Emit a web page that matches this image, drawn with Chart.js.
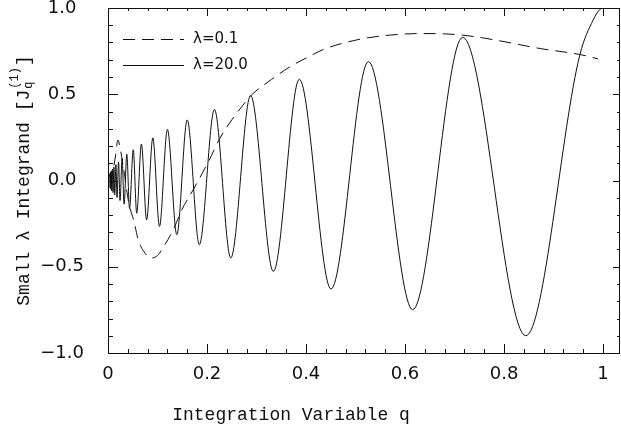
<!DOCTYPE html>
<html>
<head>
<meta charset="utf-8">
<script src="https://cdn.jsdelivr.net/npm/chart.js@4"></script>
<style>
  body { margin: 0; background: #fff; }
  canvas { display: block; }
</style>
</head>
<body>
<canvas id="integrand" width="621" height="431"></canvas>
<script>
// solid curve, lambda = 20.0 (extrema)
const qSolid = [0.001, 0.0038, 0.0043, 0.005, 0.0057, 0.0067, 0.0076, 0.009, 0.0102, 0.012,
  0.0136, 0.016, 0.0182, 0.0213, 0.0243, 0.0285, 0.0325, 0.038, 0.0435, 0.051,
  0.058, 0.0675, 0.078, 0.0905, 0.104, 0.120, 0.139, 0.160, 0.1845, 0.215,
  0.248, 0.288, 0.334, 0.3865, 0.4505, 0.526, 0.6155, 0.7165, 0.844, 0.9535,
  0.98, 0.993, 1.0];
const jSolid = [0.0, 0.04, -0.043, 0.048, -0.05, 0.056, -0.06, 0.066, -0.07, 0.078,
  -0.083, 0.092, -0.098, 0.108, -0.116, 0.128, -0.137, 0.152, -0.162, 0.178,
  -0.19, 0.211, -0.228, 0.247, -0.266, 0.296, -0.314, 0.351, -0.372, 0.412,
  -0.449, 0.492, -0.527, 0.587, -0.629, 0.689, -0.749, 0.830, -0.900, 0.732,
  0.93, 0.99, 1.0];

// dashed curve, lambda = 0.1
const qDashed = [0.005, 0.0105, 0.0155, 0.020, 0.025, 0.031, 0.042, 0.0525, 0.061, 0.072,
  0.087, 0.100, 0.112, 0.132, 0.149, 0.172, 0.203, 0.226, 0.250, 0.273,
  0.290, 0.330, 0.368, 0.400, 0.440, 0.480, 0.520, 0.570, 0.630, 0.700,
  0.750, 0.800, 0.873, 0.954, 0.990];
const jDashed = [-0.02, 0.06, 0.15, 0.235, 0.18, 0.08, -0.13, -0.237, -0.343, -0.41,
  -0.449, -0.435, -0.385, -0.285, -0.17, -0.054, 0.11, 0.245, 0.351, 0.438,
  0.496, 0.585, 0.66, 0.71, 0.765, 0.800, 0.825, 0.843, 0.852, 0.847,
  0.830, 0.805, 0.765, 0.730, 0.705];

const xTickValues = [0, 0.2, 0.4, 0.6, 0.8, 1];
const xTickLabels = ['0', '0.2', '0.4', '0.6', '0.8', '1'];
const yTickValues = [-1, -0.5, 0, 0.5, 1];
const yTickLabels = ['\u22121.0', '\u22120.5', '0.0', '0.5', '1.0'];

const ink = '#111';
const tickFont = { family: 'DejaVu Sans', size: 18, lineHeight: 1.0 };
const titleFont = '18px "Liberation Mono"';

const toPoints = (xs, ys) => xs.map((x, i) => ({ x: x, y: ys[i] }));

// frame with inward ticks on all four sides
const framePlugin = {
  id: 'frame',
  afterDatasetsDraw(chart) {
    const { ctx, chartArea: a, scales: { x, y } } = chart;
    ctx.save();
    ctx.strokeStyle = ink;
    ctx.lineWidth = 1;
    ctx.strokeRect(a.left + 0.5, a.top + 0.5, a.right - a.left - 1, a.bottom - a.top);
    ctx.beginPath();
    for (let k = 0; k * 0.04 <= x.max + 1e-9; k++) {
      const v = k * 0.04;
      const major = k % 5 === 0;
      const px = Math.round(x.getPixelForValue(v)) + 0.5;
      ctx.moveTo(px, a.bottom); ctx.lineTo(px, a.bottom - (major ? 9 : 4));
      ctx.moveTo(px, a.top); ctx.lineTo(px, a.top + (major ? 8 : 3));
    }
    for (let k = -10; k <= 10; k++) {
      const v = k / 10;
      const major = k % 5 === 0;
      const py = Math.round(y.getPixelForValue(v)) + 0.5;
      ctx.moveTo(a.left, py); ctx.lineTo(a.left + (major ? 10 : 5), py);
      ctx.moveTo(a.right, py); ctx.lineTo(a.right - (major ? 7 : 3), py);
    }
    ctx.stroke();
    ctx.restore();
  }
};

// axis titles and the in-plot key
const labelPlugin = {
  id: 'labels',
  afterDraw(chart) {
    const { ctx, chartArea: a } = chart;
    ctx.save();
    ctx.fillStyle = ink;
    ctx.textBaseline = 'middle';

    ctx.font = titleFont;
    ctx.textAlign = 'center';
    ctx.fillText('Integration Variable q', 291, 415);

    ctx.translate(24, (a.top + a.bottom) / 2);
    ctx.rotate(-Math.PI / 2);
    ctx.textAlign = 'left';
    const main = 'Small \u03bb Integrand [J';
    const wMain = ctx.measureText(main).width;
    ctx.font = '12px "Liberation Mono"';
    const wSup = ctx.measureText('(1)').width;
    ctx.font = titleFont;
    const wBr = ctx.measureText(']').width;
    const x0 = -(wMain + wSup + wBr + 2) / 2;
    ctx.fillText(main, x0, 0);
    ctx.font = '12px "Liberation Mono"';
    ctx.fillText('q', x0 + wMain + 1, 5);
    ctx.fillText('(1)', x0 + wMain + 1, -9);
    ctx.font = titleFont;
    ctx.fillText(']', x0 + wMain + wSup + 2, 0);
    ctx.restore();

    ctx.save();
    ctx.font = '15px "DejaVu Sans"';
    ctx.textBaseline = 'middle';
    ctx.fillStyle = ink;
    chart.data.datasets.forEach((ds, i) => {
      const yy = 39 + i * 26;
      ctx.strokeStyle = ink;
      ctx.lineWidth = 1;
      ctx.setLineDash(ds.borderDash || []);
      ctx.beginPath();
      ctx.moveTo(123, yy + 0.5);
      ctx.lineTo(184, yy + 0.5);
      ctx.stroke();
      ctx.setLineDash([]);
      ctx.fillText(ds.label, 193, yy);
    });
    ctx.restore();
  }
};

const whiteBg = {
  id: 'whiteBg',
  beforeDraw(chart) {
    const ctx = chart.ctx;
    ctx.save();
    ctx.fillStyle = '#fff';
    ctx.fillRect(0, 0, chart.width, chart.height);
    ctx.restore();
  }
};

new Chart(document.getElementById('integrand'), {
  type: 'line',
  data: {
    datasets: [{
      label: '\u03bb=0.1',
      data: toPoints(qDashed, jDashed),
      borderColor: ink,
      borderWidth: 1,
      borderDash: [12, 7],
      pointRadius: 0,
      cubicInterpolationMode: 'monotone'
    }, {
      label: '\u03bb=20.0',
      data: toPoints(qSolid, jSolid),
      borderColor: ink,
      borderWidth: 1,
      pointRadius: 0,
      cubicInterpolationMode: 'monotone'
    }]
  },
  options: {
    responsive: false,
    animation: false,
    layout: { padding: { top: 8, right: 1, left: 0, bottom: 0 } },
    plugins: { legend: { display: false }, tooltip: { enabled: false } },
    scales: {
      x: {
        type: 'linear',
        min: 0,
        max: 1.0343,
        grid: { display: false },
        border: { display: false },
        afterBuildTicks: s => { s.ticks = xTickValues.map(v => ({ value: v })); },
        afterFit: s => { s.height = 78; s.paddingLeft = 0; s.paddingRight = 0; },
        ticks: {
          padding: 4,
          color: ink,
          font: tickFont,
          maxRotation: 0,
          callback: (v, i) => xTickLabels[i]
        }
      },
      y: {
        min: -1,
        max: 1,
        grid: { display: false },
        border: { display: false },
        afterBuildTicks: s => { s.ticks = yTickValues.map(v => ({ value: v })); },
        afterFit: s => { s.width = 108; s.paddingTop = 0; s.paddingBottom = 0; },
        ticks: {
          padding: 16,
          crossAlign: 'center',
          color: ink,
          font: tickFont,
          callback: (v, i) => yTickLabels[i]
        }
      }
    }
  },
  plugins: [whiteBg, framePlugin, labelPlugin]
});
</script>
</body>
</html>
